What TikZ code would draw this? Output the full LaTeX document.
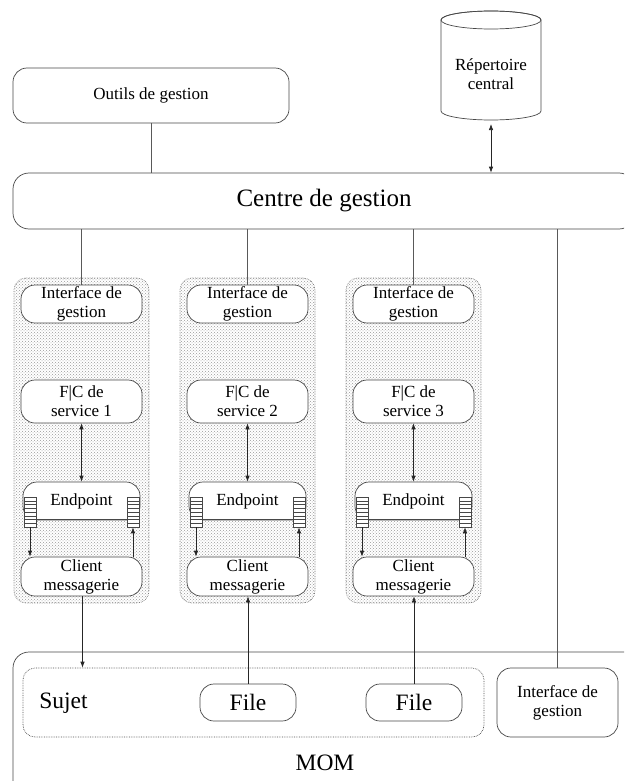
\documentclass[tikz,border=0pt]{standalone}
\usepackage{fontspec}
\setmainfont{Liberation Serif}
\usetikzlibrary{arrows.meta,patterns,calc}

\begin{document}
\begin{tikzpicture}[x=1pt,y=-1pt,
  line width=0.7pt,
  sz/.style 2 args={minimum width=#1 pt, minimum height=#2 pt},
  box/.style={draw=black!72, rounded corners=14pt, fill=white, align=center,
    inner sep=0pt, font=\fontsize{17}{19}\selectfont},
  bigbox/.style={draw=black!72, rounded corners=16pt, inner sep=0pt},
  grp/.style={draw=black!50, densely dotted, rounded corners=12pt,
    pattern=crosshatch dots, pattern color=black!40, inner sep=0pt},
  queue/.style={draw=black!72, fill=white, inner sep=0pt, minimum width=12pt,
    minimum height=30pt, line width=0.6pt,
    path picture={\foreach \k in {1,...,7}
      \draw[black!72, line width=0.5pt]
        ($(path picture bounding box.north west)!\k/8!(path picture bounding box.south west)$) --
        ($(path picture bounding box.north east)!\k/8!(path picture bounding box.south east)$);}},
  link/.style={draw=black!65},
  arr/.style={draw=black!85, -{Latex[length=6pt,width=4.5pt]}},
  darr/.style={draw=black!85, {Latex[length=6pt,width=4.5pt]}-{Latex[length=6pt,width=4.5pt]}},
  lbl/.style={inner sep=0pt, font=\fontsize{23.5}{26}\selectfont},
]
\useasboundingbox (0,0) rectangle (624,781);
\clip (0,0) rectangle (624,781);

% management tools and central directory
\node[box, sz={276}{55}] (outils) at (151,95.5) {Outils de gestion};
\draw[draw=black!72, fill=white]
  (441,20) -- (441,111) arc[start angle=180, end angle=0, x radius=50, y radius=9]
  -- (541,20) arc[start angle=0, end angle=-180, x radius=50, y radius=9] -- cycle;
\draw[draw=black!72] (491,20) ellipse [x radius=50, y radius=9];
\node[align=center, inner sep=0pt, font=\fontsize{17}{19}\selectfont] (rep) at (491,74) {Répertoire\\central};
\coordinate (repb) at (491,121);

% management centre
\node[bigbox, sz={622}{56}, font=\fontsize{25}{28}\selectfont] (centre) at (324,201) {Centre de gestion};

\draw[link] (outils.south) -- (outils.south |- centre.north);
\draw[darr, shorten <=3pt] (repb) -- (repb |- centre.north);

% the three service containers
\foreach \i/\x in {1/14, 2/180, 3/346} {
  \pgfmathsetmacro{\cx}{\x+67.5}
  \node[grp, sz={135}{325}] (g\i) at (\cx,440.5) {};
  \node[box, sz={121}{38}] (ifc\i) at (\cx,304) {Interface de\\gestion};
  \node[box, sz={121}{43}] (fc\i) at (\cx,401.5) {F|C de\\service \i};
  \node[box, sz={117}{38}] (ep\i) at (\cx,501) {Endpoint};
  \node[queue] (ql\i) at (\x+16,512) {};
  \node[queue] (qr\i) at (\x+119,512) {};
  \draw[black!72, line width=0.6pt] (ql\i.east |- 0,519) -- (qr\i.west |- 0,519);
  \node[box, sz={121}{39}] (cl\i) at (\cx,576.5) {Client\\messagerie};
  \draw[link] (centre.south -| ifc\i.north) -- (ifc\i.north);
  \draw[darr] (fc\i.south) -- (ep\i.north);
  \draw[arr] (ql\i.south) -- (ql\i.south |- cl\i.north);
  \draw[arr] (qr\i.south |- cl\i.north) -- (qr\i.south);
}

% message-oriented middleware
\node[bigbox, sz={627}{148}] (mom) at (326.5,726) {};
\node[lbl] (momlbl) at (325,763) {MOM};
\node[draw=black!70, densely dotted, rounded corners=12pt, sz={461}{69}] (sujet) at (253.5,702.5) {};
\node[lbl, anchor=west] (sujetlbl) at (39,703) {Sujet};
\node[box, sz={96}{37}, font=\fontsize{23.5}{26}\selectfont] (file2) at (248,702.5) {File};
\node[box, sz={96}{37}, font=\fontsize{23.5}{26}\selectfont] (file3) at (414,702.5) {File};
\node[box, sz={121}{69}] (imom) at (557.5,702.5) {Interface de\\gestion};

\draw[link] (centre.south -| imom.north) -- (imom.north);
\draw[arr] ([xshift=1pt]cl1.south) -- ([xshift=1pt]cl1.south |- sujet.north);
\draw[arr] (file2.north) -- (file2.north |- cl2.south);
\draw[arr] (file3.north) -- (file3.north |- cl3.south);
\end{tikzpicture}
\end{document}
